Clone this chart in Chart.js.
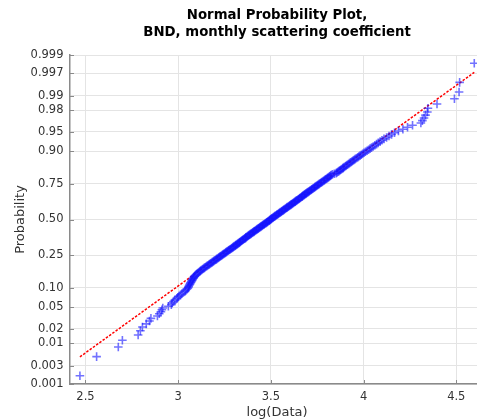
<!DOCTYPE html>
<html>
<head>
<meta charset="utf-8">
<script src="https://cdn.jsdelivr.net/npm/chart.js@4.4.1/dist/chart.umd.min.js"></script>
<style>
  html, body { margin: 0; padding: 0; background: #fff; overflow: hidden; }
  #wrap { width: 490px; height: 420px; }
</style>
</head>
<body>
<div id="wrap"><canvas id="probPlot" width="490" height="420"></canvas></div>
<script>
// sorted log(Data) sample (300 monthly values)
const logData = [
  2.470, 2.560, 2.677, 2.699, 2.784, 2.796, 2.807, 2.828, 2.845, 2.853,
  2.888, 2.898, 2.907, 2.912, 2.917, 2.947, 2.963, 2.968, 2.974, 2.982,
  2.993, 2.998, 3.004, 3.012, 3.020, 3.028, 3.036, 3.041, 3.047, 3.052,
  3.055, 3.057, 3.060, 3.063, 3.065, 3.068, 3.071, 3.074, 3.076, 3.079,
  3.082, 3.084, 3.087, 3.090, 3.094, 3.098, 3.103, 3.108, 3.113, 3.118,
  3.121, 3.126, 3.131, 3.136, 3.141, 3.146, 3.151, 3.156, 3.161, 3.166,
  3.170, 3.175, 3.180, 3.184, 3.189, 3.193, 3.198, 3.203, 3.207, 3.211,
  3.216, 3.220, 3.224, 3.228, 3.232, 3.237, 3.241, 3.245, 3.249, 3.253,
  3.257, 3.261, 3.265, 3.269, 3.273, 3.277, 3.281, 3.285, 3.289, 3.293,
  3.296, 3.300, 3.304, 3.308, 3.311, 3.315, 3.319, 3.322, 3.326, 3.330,
  3.332, 3.335, 3.339, 3.342, 3.346, 3.349, 3.353, 3.357, 3.360, 3.364,
  3.365, 3.369, 3.372, 3.376, 3.379, 3.382, 3.386, 3.390, 3.393, 3.396,
  3.400, 3.403, 3.407, 3.410, 3.413, 3.417, 3.420, 3.424, 3.427, 3.431,
  3.434, 3.437, 3.441, 3.444, 3.447, 3.451, 3.454, 3.457, 3.461, 3.464,
  3.467, 3.471, 3.474, 3.478, 3.481, 3.484, 3.488, 3.491, 3.494, 3.497,
  3.499, 3.502, 3.505, 3.509, 3.512, 3.515, 3.519, 3.522, 3.525, 3.529,
  3.532, 3.535, 3.539, 3.542, 3.545, 3.549, 3.552, 3.556, 3.559, 3.562,
  3.566, 3.569, 3.572, 3.576, 3.579, 3.583, 3.586, 3.589, 3.593, 3.597,
  3.600, 3.603, 3.607, 3.610, 3.614, 3.617, 3.621, 3.624, 3.628, 3.631,
  3.634, 3.638, 3.641, 3.645, 3.649, 3.652, 3.656, 3.659, 3.663, 3.667,
  3.669, 3.672, 3.676, 3.679, 3.683, 3.687, 3.690, 3.694, 3.698, 3.702,
  3.706, 3.710, 3.714, 3.718, 3.721, 3.725, 3.729, 3.733, 3.737, 3.741,
  3.745, 3.749, 3.753, 3.757, 3.761, 3.766, 3.770, 3.774, 3.778, 3.783,
  3.787, 3.791, 3.796, 3.800, 3.805, 3.809, 3.814, 3.818, 3.822, 3.826,
  3.832, 3.842, 3.852, 3.857, 3.862, 3.867, 3.872, 3.877, 3.882, 3.888,
  3.891, 3.896, 3.902, 3.907, 3.913, 3.919, 3.924, 3.930, 3.936, 3.942,
  3.948, 3.954, 3.961, 3.968, 3.974, 3.981, 3.988, 3.995, 4.002, 4.010,
  4.019, 4.027, 4.035, 4.043, 4.052, 4.061, 4.070, 4.079, 4.089, 4.099,
  4.110, 4.124, 4.137, 4.151, 4.167, 4.188, 4.212, 4.237, 4.264, 4.309,
  4.317, 4.326, 4.334, 4.344, 4.347, 4.396, 4.490, 4.515, 4.518, 4.597
];

const probTicks = [0.001, 0.003, 0.01, 0.02, 0.05, 0.10, 0.25, 0.50, 0.75, 0.90, 0.95, 0.98, 0.99, 0.997, 0.999];
const probTickLabels = ['0.001', '0.003', '0.01', '0.02', '0.05', '0.10', '0.25', '0.50', '0.75', '0.90', '0.95', '0.98', '0.99', '0.997', '0.999'];
const xTicks = [2.5, 3, 3.5, 4, 4.5];
const xTickLabels = ['2.5', '3', '3.5', '4', '4.5'];
const xLimits = [2.4165, 4.650];

// reference line of the normal fit (mean, std of log data)
const fitMu = 3.497;
const fitSigma = 0.398;

const titleLines = ['Normal Probability Plot,', 'BND, monthly scattering coefficient'];

// inverse normal cdf (Acklam) -> turns probabilities into the axis position
function probit(p) {
    const a = [-3.969683028665376e+01, 2.209460984245205e+02, -2.759285104469687e+02, 1.383577518672690e+02, -3.066479806614716e+01, 2.506628277459239e+00];
    const b = [-5.447609879822406e+01, 1.615858368580409e+02, -1.556989798598866e+02, 6.680131188771972e+01, -1.328068155288572e+01];
    const c = [-7.784894002430293e-03, -3.223964580411365e-01, -2.400758277161838e+00, -2.549671010584233e+00, 4.374664141464968e+00, 2.938163982698783e+00];
    const d = [7.784695709041462e-03, 3.224671290700398e-01, 2.445134137142996e+00, 3.754408661907416e+00];
    const pl = 0.02425;
    let q, r;
    if (p < pl) {
        q = Math.sqrt(-2 * Math.log(p));
        return (((((c[0] * q + c[1]) * q + c[2]) * q + c[3]) * q + c[4]) * q + c[5]) / ((((d[0] * q + d[1]) * q + d[2]) * q + d[3]) * q + 1);
    }
    if (p > 1 - pl) {
        q = Math.sqrt(-2 * Math.log(1 - p));
        return -(((((c[0] * q + c[1]) * q + c[2]) * q + c[3]) * q + c[4]) * q + c[5]) / ((((d[0] * q + d[1]) * q + d[2]) * q + d[3]) * q + 1);
    }
    q = p - 0.5;
    r = q * q;
    return (((((a[0] * r + a[1]) * r + a[2]) * r + a[3]) * r + a[4]) * r + a[5]) * q / (((((b[0] * r + b[1]) * r + b[2]) * r + b[3]) * r + b[4]) * r + 1);
}

const n = logData.length;
// plotting positions (i - 0.5) / n, as normplot does
const points = logData.map((v, i) => ({ x: v, y: probit((i + 0.5) / n) }));
const xMin = logData[0];
const xMax = logData[n - 1];
const fitLine = [
    { x: xMin, y: (xMin - fitMu) / fitSigma },
    { x: xMax, y: (xMax - fitMu) / fitSigma }
];

const axisColor = '#8a8a8a';
const gridColor = '#e4e4e4';
const textColor = '#333333';

// title centred over the axes, like matlab
const titlePlugin = {
    id: 'axesTitle',
    afterDraw(chart) {
        const { ctx, chartArea } = chart;
        const cx = (chartArea.left + chartArea.right) / 2;
        ctx.save();
        ctx.fillStyle = '#000';
        ctx.font = 'bold 13.3px "DejaVu Sans"';
        ctx.textAlign = 'center';
        ctx.textBaseline = 'alphabetic';
        ctx.fillText(titleLines[0], cx, 19);
        ctx.fillText(titleLines[1], cx, 35.5);
        ctx.restore();
    }
};

// small tick marks pointing into the axes
const innerTicks = {
    id: 'innerTicks',
    afterDraw(chart) {
        const { ctx, chartArea, scales } = chart;
        ctx.save();
        ctx.strokeStyle = axisColor;
        ctx.lineWidth = 1;
        ctx.beginPath();
        scales.y.ticks.forEach(t => {
            const y = Math.round(scales.y.getPixelForValue(t.value)) + 0.5;
            ctx.moveTo(chartArea.left, y);
            ctx.lineTo(chartArea.left + 4, y);
        });
        scales.x.ticks.forEach(t => {
            const x = Math.round(scales.x.getPixelForValue(t.value)) + 0.5;
            ctx.moveTo(x, chartArea.bottom);
            ctx.lineTo(x, chartArea.bottom - 4);
        });
        ctx.stroke();
        ctx.restore();
    }
};

new Chart(document.getElementById('probPlot'), {
    type: 'scatter',
    data: {
        datasets: [{
            label: 'data',
            data: points,
            pointStyle: 'cross',
            pointRadius: 4.3,
            pointBorderWidth: 1.6,
            borderColor: 'rgba(20, 20, 255, 0.6)',
            backgroundColor: 'rgba(20, 20, 255, 0.6)',
            showLine: false
        }, {
            label: 'fit',
            data: fitLine,
            showLine: true,
            borderColor: '#ff0000',
            borderWidth: 1.5,
            borderDash: [2.5, 1.5],
            pointRadius: 0
        }]
    },
    options: {
        responsive: false,
        animation: false,
        layout: { padding: { top: 55, right: 5, left: 0, bottom: 0 } },
        plugins: {
            legend: { display: false },
            tooltip: { enabled: false }
        },
        scales: {
            x: {
                type: 'linear',
                min: xLimits[0],
                max: xLimits[1],
                afterBuildTicks: (scale) => { scale.ticks = xTicks.map(v => ({ value: v })); },
                afterFit: (scale) => { scale.height = 36; },
                ticks: {
                    autoSkip: false,
                    maxRotation: 0,
                    padding: 6,
                    color: textColor,
                    font: { family: 'DejaVu Sans', size: 11.5 },
                    callback: (v, i) => xTickLabels[i]
                },
                grid: { color: gridColor, drawTicks: false },
                border: { color: axisColor, width: 1.5 },
                title: {
                    display: true,
                    text: 'log(Data)',
                    color: textColor,
                    font: { family: 'DejaVu Sans', size: 13 },
                    padding: { top: 0, bottom: 0 }
                }
            },
            y: {
                type: 'linear',
                min: probit(probTicks[0]),
                max: probit(probTicks[probTicks.length - 1]),
                afterBuildTicks: (scale) => { scale.ticks = probTicks.map(p => ({ value: probit(p) })); },
                afterFit: (scale) => { scale.width = 70; },
                ticks: {
                    autoSkip: false,
                    padding: 6.5,
                    color: textColor,
                    font: { family: 'DejaVu Sans', size: 11.5 },
                    callback: (v, i) => probTickLabels[i]
                },
                grid: { color: gridColor, drawTicks: false },
                border: { color: axisColor, width: 1.5 },
                title: {
                    display: true,
                    text: 'Probability',
                    color: textColor,
                    font: { family: 'DejaVu Sans', size: 13 },
                    padding: { top: 13, bottom: 0 }
                }
            }
        }
    },
    plugins: [titlePlugin, innerTicks]
});
</script>
</body>
</html>
